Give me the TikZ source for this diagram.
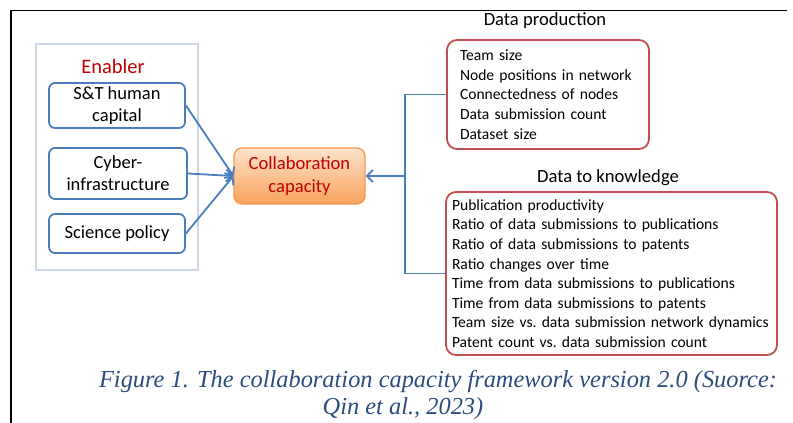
\documentclass[tikz,border=0pt]{standalone}
\usepackage{fontspec}
\setmainfont{Carlito}
\newfontfamily\capfont{Liberation Serif}
\usepackage{xcolor}
\usetikzlibrary{arrows.meta}
\usetikzlibrary{positioning}

\definecolor{linkblue}{HTML}{4A7EBB}
\definecolor{listred}{HTML}{C0504D}
\definecolor{titlered}{HTML}{C00000}
\definecolor{framegray}{HTML}{CCD6E4}
\definecolor{capblue}{HTML}{2B4C7E}
\definecolor{orangetop}{HTML}{FDE3CC}
\definecolor{orangebot}{HTML}{F9A25C}
\definecolor{orangeline}{HTML}{F79646}

\begin{document}
\begin{tikzpicture}[x=1pt,y=-1pt,
  enabler/.style={draw=linkblue,line width=1.8pt,rounded corners=6pt,align=center,
    minimum width=136pt,inner sep=2pt,font=\fontsize{18.5}{22}\selectfont},
  listbox/.style={draw=listred,line width=1.8pt,rounded corners=10pt,align=left,
    font=\fontsize{15.6}{19.6}\selectfont},
  heading/.style={font=\fontsize{18.6}{20}\selectfont},
  link/.style={draw=linkblue,line width=1.8pt},
  arrow/.style={link,-{Straight Barb[length=6pt,width=12pt,line width=1.8pt]}},
  caption/.style={text=capblue,font=\capfont\itshape\fontsize{24.4}{27}\selectfont}
]
\useasboundingbox (0,0) rectangle (793,423);

% page border
\draw[line width=1pt] (10,10) -- (787,10);
\draw[line width=2pt] (11,10) -- (11,423);

% Enabler group
\node[draw=framegray,line width=1.6pt,minimum width=162pt,minimum height=226pt] (frame) at (117,157) {};
\node[font=\fontsize{20.5}{22}\selectfont,text=titlered] (enabler) at (113,66) {Enabler};
\node[enabler,minimum height=45pt] (human) at (117,105.5) {S\&T human\\capital};
\node[enabler,minimum width=138pt,minimum height=51pt] (cyber) at (118,173.5) {Cyber-\\infrastructure};
\node[enabler,minimum height=39pt] (policy) at (117,233.5) {Science policy};

% Collaboration capacity
\node[draw=orangeline,line width=1.2pt,rounded corners=8pt,top color=orangetop,bottom color=orangebot,
  minimum width=131pt,minimum height=56pt,align=center,text=titlered,
  font=\fontsize{18.6}{23}\selectfont] (collab) at (299.5,176) {Collaboration\\capacity};

% Data production
\node[heading] (dptitle) at (545,21) {Data production};
\node[listbox,minimum width=202pt,minimum height=109pt,text width=176pt,inner xsep=13pt] (dp) at (548,94.5)
  {Team size\\Node positions in network\\Connectedness of nodes\\Data submission count\\Dataset size};

% Data to knowledge
\node[heading] (dktitle) at (608,178) {Data to knowledge};
\node[listbox,minimum width=331pt,minimum height=163pt,text width=319pt,inner xsep=6pt] (dk) at (611.5,273.5)
  {Publication productivity\\Ratio of data submissions to publications\\Ratio of data submissions to patents\\
   Ratio changes over time\\Time from data submissions to publications\\Time from data submissions to patents\\
   Team size vs.\ data submission network dynamics\\Patent count vs.\ data submission count};

% connectors
\coordinate (bus) at (405,176);
\draw[link] (dp.west) -| (bus) |- (dk.west);
\draw[arrow] (bus) -- (collab.east);
\draw[arrow] (human.east) -- (collab.west);
\draw[arrow] (cyber.east) -- (collab.west);
\draw[arrow] (policy.east) -- (collab.west);

% caption
\node[caption] (cap1) at (438,382) {Figure 1. The collaboration capacity framework version 2.0 (Suorce:};
\node[caption] (cap2) at (403,409) {Qin et al., 2023)};

\end{tikzpicture}
\end{document}
